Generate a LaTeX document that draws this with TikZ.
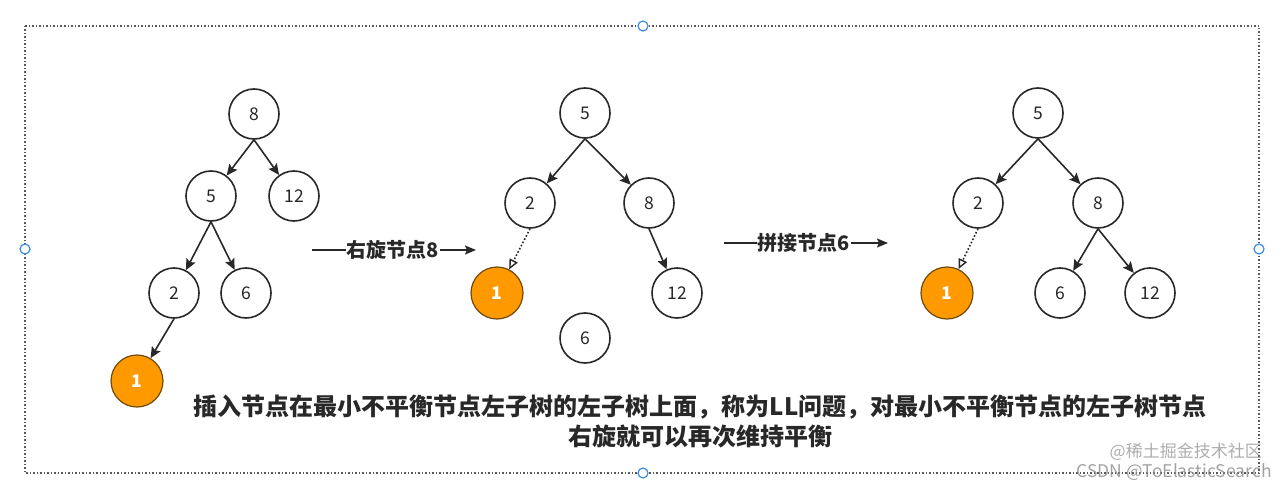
\documentclass[tikz,border=0pt]{standalone}
\usepackage{fontspec}
\setmainfont{Noto Sans CJK SC}
\usetikzlibrary{arrows.meta}
\definecolor{orangeF}{RGB}{255,153,0}
\definecolor{orangeD}{RGB}{110,75,10}
\definecolor{handleB}{RGB}{60,140,230}
\definecolor{txt}{RGB}{40,40,40}
\tikzset{
  tnode/.style={circle,draw=txt,line width=1.6pt,fill=white,minimum size=50pt,inner sep=0pt,font=\fontsize{17.5}{19}\selectfont,text=txt},
  onode/.style={circle,draw=orangeD,line width=1.2pt,fill=orangeF,minimum size=52pt,inner sep=0pt,font=\bfseries\fontsize{17.5}{19}\selectfont,text=white},
  edge/.style={draw=txt,line width=1.6pt,-{Stealth[length=11pt,width=10pt,inset=2pt]}},
  dedge/.style={draw=txt,line width=1.6pt,dotted,-{Triangle[open,length=10pt,width=9pt,line width=1.4pt,sep=0pt]}},
  lbl/.style={font=\bfseries\fontsize{20}{22}\selectfont,text=txt,inner sep=1pt},
  handle/.style={circle,draw=handleB,line width=1.2pt,fill=white,minimum size=10pt,inner sep=0pt},
}
\begin{document}
\begin{tikzpicture}[x=1pt,y=-1pt]
\useasboundingbox (0,0) rectangle (1284,489);
% border
\draw[draw=black!65,line width=1.5pt,dotted] (25,26) rectangle (1259,473);
\node[handle] (h1) at (643,26) {};
\node[handle] (h2) at (25,249) {};
\node[handle] (h3) at (1259,249) {};
\node[handle] (h4) at (643,473) {};
% tree 1
\node[tnode] (a8) at (254,114) {8};
\node[tnode] (a5) at (211,196) {5};
\node[tnode] (a12) at (294,196) {12};
\node[tnode] (a2) at (174,293) {2};
\node[tnode] (a6) at (246,293) {6};
\node[onode] (a1) at (137,381) {1};
\draw[edge] (a8.south) -- (a5);
\draw[edge] (a8.south) -- (a12);
\draw[edge] (a5.south) -- (a2);
\draw[edge] (a5.south) -- (a6);
\draw[edge] (a2.south) -- (a1);
% arrow 1
\node[lbl] (l1) at (393,250) {右旋节点8};
\coordinate (l1s) at (312,250);
\coordinate (l1e) at (476,250);
\draw[line width=1.6pt,draw=txt] (l1s) -- (l1.west);
\draw[line width=1.6pt,draw=txt,-{Stealth[length=11pt,width=9pt,inset=2pt]}] (l1.east) -- (l1e);
% tree 2
\node[tnode] (b5) at (585,113) {5};
\node[tnode] (b2) at (530,203) {2};
\node[tnode] (b8) at (649,203) {8};
\node[onode] (b1) at (497,293) {1};
\node[tnode] (b12) at (677,293) {12};
\node[tnode] (b6) at (585,338) {6};
\draw[edge] (b5.south) -- (b2);
\draw[edge] (b5.south) -- (b8);
\draw[edge] (b8.south) -- (b12);
\draw[dedge] (b2.south) -- (b1);
% arrow 2
\node[lbl] (l2) at (804,243) {拼接节点6};
\coordinate (l2s) at (724,243);
\coordinate (l2e) at (888,243);
\draw[line width=1.6pt,draw=txt] (l2s) -- (l2.west);
\draw[line width=1.6pt,draw=txt,-{Stealth[length=11pt,width=9pt,inset=2pt]}] (l2.east) -- (l2e);
% tree 3
\node[tnode] (c5) at (1038,113) {5};
\node[tnode] (c2) at (978,203) {2};
\node[tnode] (c8) at (1098,203) {8};
\node[onode] (c1) at (947,293) {1};
\node[tnode] (c6) at (1060,293) {6};
\node[tnode] (c12) at (1150,293) {12};
\draw[edge] (c5.south) -- (c2);
\draw[edge] (c5.south) -- (c8);
\draw[edge] (c8.south) -- (c6);
\draw[edge] (c8.south) -- (c12);
\draw[dedge] (c2.south) -- (c1);
% caption
\node[font=\bfseries\fontsize{24}{30}\selectfont,text=txt,align=center] (cap) at (700,421) {插入节点在最小不平衡节点左子树的左子树上面，称为LL问题，对最小不平衡节点的左子树节点\\右旋就可以再次维持平衡};
% watermark
\node[font=\fontsize{17.5}{19}\selectfont,text=black!45,opacity=0.8,anchor=east,inner sep=0pt] (wm1) at (1272,472) {CSDN @ToElasticSearch};
\node[font=\fontsize{17}{19}\selectfont,text=black!40,opacity=0.8,anchor=east,inner sep=0pt] (wm2) at (1262,452) {@稀土掘金技术社区};
\end{tikzpicture}
\end{document}
